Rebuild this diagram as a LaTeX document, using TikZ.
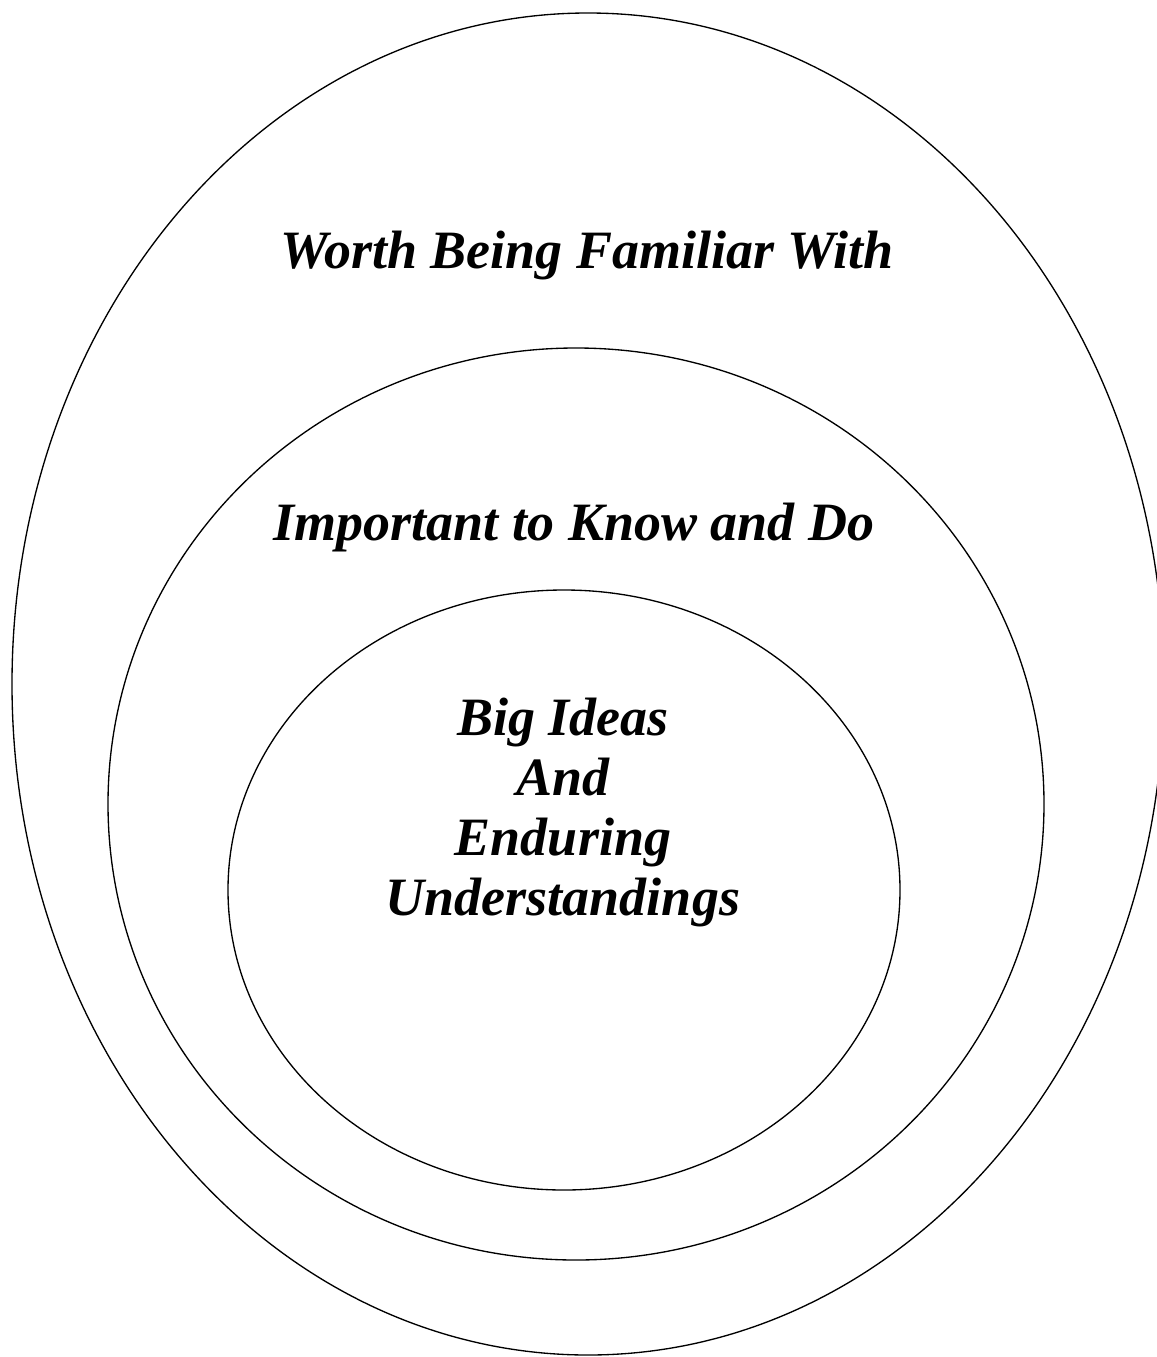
\documentclass[tikz,border=0pt]{standalone}
\usepackage{fontspec}
\setmainfont{Liberation Serif}
\usepackage{tikz}

\begin{document}
\begin{tikzpicture}[x=0.75pt,y=0.75pt,yscale=-1,xscale=1]
\tikzset{
  ring/.style={draw=black, line width=1pt},
  label/.style={font=\fontsize{40.5}{45}\selectfont\bfseries\itshape, anchor=base, align=center, inner sep=0pt}
}
%set diagram left start at 0, and has height of 1357
\useasboundingbox (0,0) rectangle (1157,1357);

%Shape: Ellipse [id:outer]
\draw [ring] (588,684) ellipse (576 and 671);
%Shape: Ellipse [id:middle]
\draw [ring] (576,804) ellipse (468 and 456);
%Shape: Ellipse [id:inner]
\draw [ring] (564,890) ellipse (336 and 300);

% Text Node
\node [label] (worth) at (587,268) {Worth Being Familiar With};
% Text Node
\node [label] (important) at (574,540) {Important to Know and Do};
% Text Node (base is the last line)
\node [label] (bigideas) at (563,915) {Big Ideas\\And\\Enduring\\Understandings};

\end{tikzpicture}
\end{document}
